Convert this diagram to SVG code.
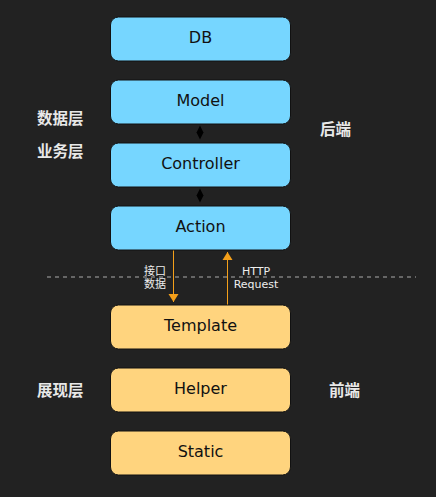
<svg xmlns="http://www.w3.org/2000/svg" width="436" height="497" viewBox="0 0 436 497">
<style>
.be rect{fill:#76d6ff;stroke:#111;stroke-width:1}
.fe rect{fill:#ffd47e;stroke:#111;stroke-width:1}
.n text{font-family:"DejaVu Sans","Liberation Sans",sans-serif;font-size:16px;fill:#111;text-anchor:middle}
.lab{font-family:"Noto Sans CJK SC",sans-serif;font-size:15.5px;font-weight:bold;fill:#e8e8e8}
.small{font-family:"DejaVu Sans","Noto Sans CJK SC",sans-serif;font-size:11px;fill:#eee;text-anchor:middle}
.arr{stroke:#f5a01a;stroke-width:1;fill:none}
</style>
<defs>
<marker id="ah" viewBox="0 0 8 12" refX="8" refY="6" markerWidth="8" markerHeight="12" markerUnits="userSpaceOnUse" orient="auto">
<path d="M0,1 L8,6 L0,11 Z" fill="#f5a01a"/>
</marker>
</defs>
<rect width="436" height="497" fill="#222"/>
<line x1="47" y1="277" x2="416" y2="277" stroke="#aaa" stroke-width="1" stroke-dasharray="4,4"/>
<g id="connectors">
<path d="M200,125.5 L203.5,132.5 L200,139.5 L196.5,132.5 Z" fill="#000"/>
<path d="M200,188.5 L203.5,195.5 L200,202.5 L196.5,195.5 Z" fill="#000"/>
<line class="arr" x1="173.5" y1="250" x2="173.5" y2="302" marker-end="url(#ah)"/>
<line class="arr" x1="227.5" y1="305" x2="227.5" y2="252" marker-end="url(#ah)"/>
<text class="small" x="155" y="275">接口</text>
<text class="small" x="155" y="288">数据</text>
<text class="small" x="256" y="275">HTTP</text>
<text class="small" x="256" y="288">Request</text>
</g>
<g id="db" class="n be"><rect x="110.5" y="17" width="180" height="44" rx="8"/><text x="200.5" y="43">DB</text></g>
<g id="model" class="n be"><rect x="110.5" y="80" width="180" height="44" rx="8"/><text x="200.5" y="106">Model</text></g>
<g id="controller" class="n be"><rect x="110.5" y="143" width="180" height="44" rx="8"/><text x="200.5" y="169">Controller</text></g>
<g id="action" class="n be"><rect x="110.5" y="206" width="180" height="44" rx="8"/><text x="200.5" y="232">Action</text></g>
<g id="template" class="n fe"><rect x="110.5" y="305" width="180" height="44" rx="8"/><text x="200.5" y="331">Template</text></g>
<g id="helper" class="n fe"><rect x="110.5" y="368" width="180" height="44" rx="8"/><text x="200.5" y="394">Helper</text></g>
<g id="static" class="n fe"><rect x="110.5" y="431" width="180" height="44" rx="8"/><text x="200.5" y="457">Static</text></g>
<text class="lab" x="37" y="124">数据层</text>
<text class="lab" x="37" y="157">业务层</text>
<text class="lab" x="37" y="396">展现层</text>
<text class="lab" x="320" y="135">后端</text>
<text class="lab" x="329" y="396">前端</text>
</svg>
